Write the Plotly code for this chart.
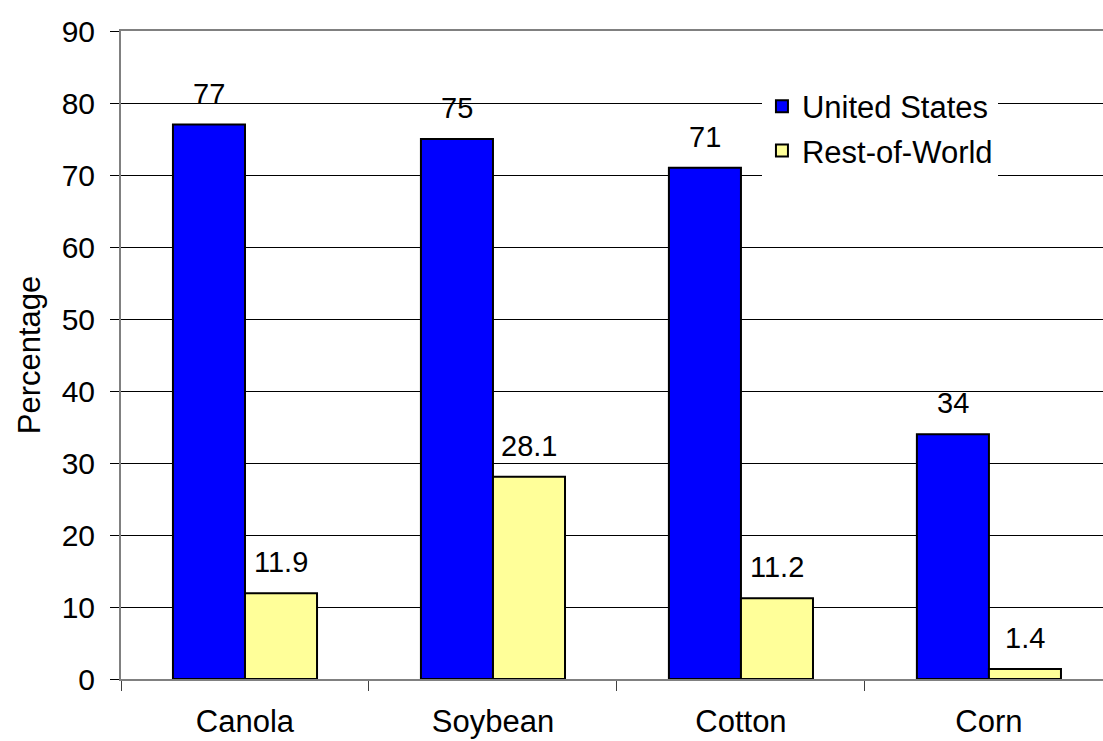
import plotly.graph_objects as go

categories = ["Canola", "Soybean", "Cotton", "Corn"]
us_values = [77, 75, 71, 34]
row_values = [11.9, 28.1, 11.2, 1.4]
us_labels = ["77", "75", "71", "34"]
row_labels = ["11.9", "28.1", "11.2", "1.4"]
y_ticks = [0, 10, 20, 30, 40, 50, 60, 70, 80, 90]

FONT = "Arial, Liberation Sans, Helvetica, sans-serif"

fig = go.Figure()
fig.add_trace(go.Bar(
    x=categories, y=us_values, name="United States",
    marker=dict(color="#0000FF", line=dict(color="black", width=2)),
    legendgroup="a",
))
fig.add_trace(go.Bar(
    x=categories, y=row_values, name="Rest-of-World",
    marker=dict(color="#FFFF99", line=dict(color="black", width=2)),
    legendgroup="b",
))

annotations = []
for cat, v, t in zip(categories, us_values, us_labels):
    annotations.append(dict(x=cat, y=v, text=t, showarrow=False, xshift=-36,
                            yanchor="bottom", yshift=13,
                            font=dict(size=29, color="black", family=FONT)))
for cat, v, t in zip(categories, row_values, row_labels):
    annotations.append(dict(x=cat, y=v, text=t, showarrow=False, xshift=36,
                            yanchor="bottom", yshift=13,
                            font=dict(size=29, color="black", family=FONT)))

fig.update_layout(
    width=1103, height=741,
    margin=dict(l=121, r=0, t=31, b=62),
    paper_bgcolor="white", plot_bgcolor="white",
    font=dict(family=FONT, color="black", size=29),
    barmode="group", bargap=0.419, bargroupgap=0,
    showlegend=True,
    legend=dict(x=0.6527, y=0.925, xanchor="left", yanchor="top",
                bgcolor="white", borderwidth=0, tracegroupgap=1,
                font=dict(size=31, family=FONT, color="black")),
    annotations=annotations,
)
fig.update_xaxes(
    range=[-0.5, 3.46], showgrid=False,
    showline=True, linecolor="#808080", linewidth=2, mirror=True,
    ticks="outside", tickson="boundaries", ticklen=10, tickcolor="#404040",
    ticklabelstandoff=14,
    tickfont=dict(size=31, family=FONT, color="black"),
)
fig.update_yaxes(
    range=[0, 90], tickvals=y_ticks,
    showgrid=True, gridcolor="black", gridwidth=1,
    zeroline=True, zerolinecolor="black", zerolinewidth=1,
    showline=True, linecolor="#808080", linewidth=2,
    ticks="outside", ticklen=9, tickcolor="black",
    ticklabelstandoff=9,
    tickfont=dict(size=30, family=FONT, color="black"),
    title=dict(text="Percentage", font=dict(size=31, family=FONT, color="black"), standoff=12),
)

fig.write_html("out.html")
